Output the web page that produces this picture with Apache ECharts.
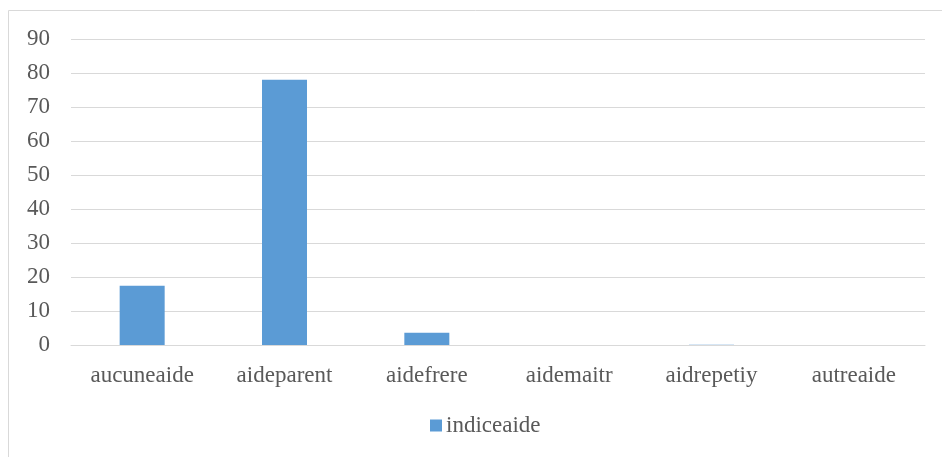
<!DOCTYPE html>
<html>
<head>
<meta charset="utf-8">
<script src="https://cdn.jsdelivr.net/npm/echarts@6/dist/echarts.min.js"></script>
<style>
html,body{margin:0;padding:0;background:#fff;}
#chart{width:942px;height:457px;}
</style>
</head>
<body>
<div id="chart"></div>
<script>
var categories = ['aucuneaide', 'aideparent', 'aidefrere', 'aidemaitr', 'aidrepetiy', 'autreaide'];
var seriesName = 'indiceaide';
var values = [17.4, 78, 3.6, 0, 0.1, 0];

var chart = echarts.init(document.getElementById('chart'));
var font = '"Liberation Serif", "Times New Roman", serif';
chart.setOption({
  animation: false,
  graphic: [{
    type: 'rect',
    shape: {x: 8.5, y: 10.5, width: 960, height: 480},
    style: {fill: 'none', stroke: '#d9d9d9', lineWidth: 1},
    silent: true
  }],
  grid: {left: 71, right: 17, top: 39, bottom: 112},
  legend: {
    data: [seriesName],
    left: 425, top: 409,
    icon: 'rect', itemWidth: 12, itemHeight: 12, itemGap: 5,
    textStyle: {fontFamily: font, fontSize: 23, color: '#595959', padding: [0,0,0,-1]}
  },
  xAxis: {
    type: 'category',
    data: categories,
    axisLine: {lineStyle: {color: '#d9d9d9', width: 1}},
    axisTick: {show: false},
    axisLabel: {fontFamily: font, fontSize: 23, color: '#595959', margin: 19}
  },
  yAxis: {
    type: 'value',
    min: 0, max: 90, interval: 10,
    axisLine: {show: false},
    axisTick: {show: false},
    splitLine: {lineStyle: {color: '#d9d9d9', width: 1}},
    axisLabel: {fontFamily: font, fontSize: 23, color: '#595959', margin: 21}
  },
  series: [{
    name: seriesName,
    type: 'bar',
    data: values,
    barWidth: 45,
    itemStyle: {color: '#5b9bd5'}
  }]
});
</script>
</body>
</html>
